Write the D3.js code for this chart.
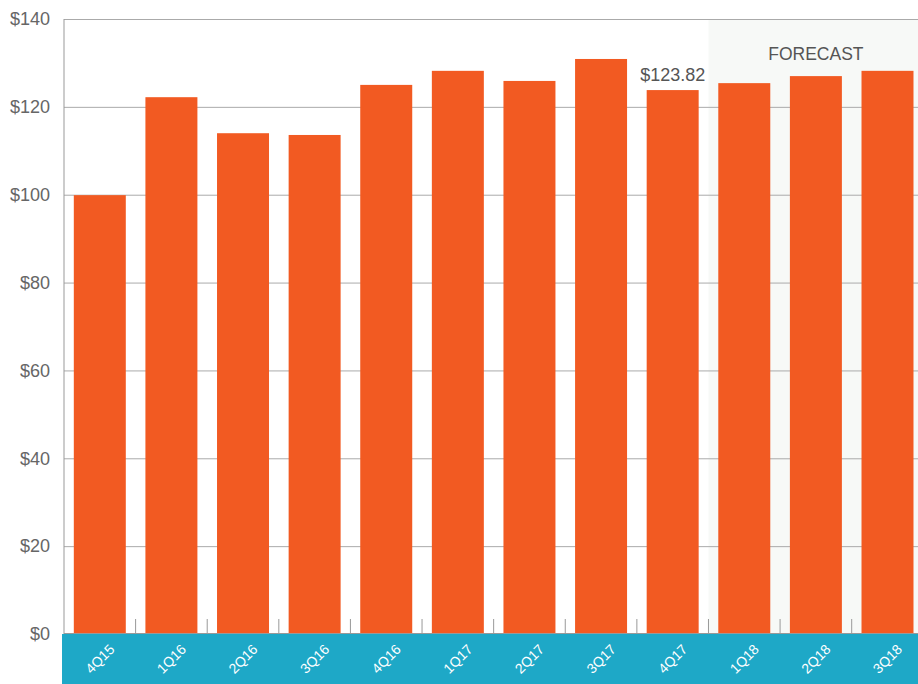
<!DOCTYPE html>
<html>
<head>
<meta charset="utf-8">
<script src="https://cdn.jsdelivr.net/npm/d3@7/dist/d3.min.js"></script>
<style>
  html, body { margin: 0; padding: 0; background: #fff; overflow: hidden; }
  svg { display: block; font-family: "Liberation Sans", Arial, Helvetica, sans-serif; }
</style>
</head>
<body>
<svg id="chart" width="918" height="684"></svg>
<script>
// Quarterly values (USD)
const quarters = ["4Q15", "1Q16", "2Q16", "3Q16", "4Q16", "1Q17", "2Q17", "3Q17", "4Q17", "1Q18", "2Q18", "3Q18"];
const values = [99.9, 122.2, 114.0, 113.6, 125.0, 128.2, 125.9, 130.9, 123.82, 125.4, 127.0, 128.2];
const forecastQuarters = ["1Q18", "2Q18", "3Q18"];
const labelledQuarter = "4Q17";
const yTicks = [0, 20, 40, 60, 80, 100, 120, 140];

const svg = d3.select("#chart");
const plotLeft = 64, plotRight = 923.3, plotTop = 19, plotBottom = 634;

const x = d3.scaleBand()
  .domain(quarters)
  .range([plotLeft, plotRight])
  .paddingInner(0.274)
  .paddingOuter(0.137);

const y = d3.scaleLinear().domain([0, 140]).range([plotBottom, plotTop]);

// Forecast shading
const fStart = x(forecastQuarters[0]) - x.step() * x.paddingInner() / 2;
svg.append("rect")
  .attr("x", fStart).attr("y", plotTop)
  .attr("width", plotRight - fStart).attr("height", plotBottom - plotTop)
  .attr("fill", "#f7f9f7");

svg.append("text")
  .attr("x", (fStart + plotRight) / 2).attr("y", 60)
  .attr("text-anchor", "middle")
  .attr("font-size", 17.5).attr("fill", "#555")
  .text("FORECAST");

// Gridlines and y labels
const yAxis = svg.append("g").attr("transform", `translate(${plotLeft},0)`)
  .call(d3.axisLeft(y).tickValues(yTicks).tickSize(-(918 - plotLeft)).tickFormat(d => "$" + d).tickPadding(14));
yAxis.select(".domain").remove();
yAxis.selectAll(".tick line").attr("stroke", "#aaa").attr("stroke-width", 1);
yAxis.selectAll(".tick text").attr("font-size", 18).attr("fill", "#666")
  .attr("font-family", "'Liberation Sans', Arial, sans-serif");

// Left axis line
svg.append("line")
  .attr("x1", plotLeft).attr("x2", plotLeft).attr("y1", plotTop).attr("y2", plotBottom)
  .attr("stroke", "#999");

// Bars
svg.append("g").selectAll("rect")
  .data(quarters)
  .join("rect")
  .attr("x", d => x(d))
  .attr("y", (d, i) => y(values[i]))
  .attr("width", x.bandwidth())
  .attr("height", (d, i) => y(0) - y(values[i]))
  .attr("fill", "#f25a22");

// Value label
const li = quarters.indexOf(labelledQuarter);
svg.append("text")
  .attr("x", x(labelledQuarter) + x.bandwidth() / 2)
  .attr("y", y(values[li]) - 9)
  .attr("text-anchor", "middle")
  .attr("font-size", 18).attr("fill", "#555")
  .text("$" + values[li].toFixed(2));

// Category ticks at band boundaries
svg.append("g").selectAll("line")
  .data(quarters.slice(1))
  .join("line")
  .attr("x1", d => x(d) - x.step() * x.paddingInner() / 2)
  .attr("x2", d => x(d) - x.step() * x.paddingInner() / 2)
  .attr("y1", plotBottom - 15).attr("y2", plotBottom)
  .attr("stroke", "#999");

// Bottom band with rotated category labels
svg.append("rect")
  .attr("x", 62).attr("y", plotBottom)
  .attr("width", 918 - 62).attr("height", 684 - plotBottom)
  .attr("fill", "#1ea8c7");

svg.append("line")
  .attr("x1", plotLeft).attr("x2", 918).attr("y1", plotBottom - 0.5).attr("y2", plotBottom - 0.5)
  .attr("stroke", "#999");

svg.append("g").selectAll("text")
  .data(quarters)
  .join("text")
  .attr("transform", d => `translate(${x(d) + x.bandwidth() / 2},${659}) rotate(-45)`)
  .attr("text-anchor", "middle")
  .attr("dy", "0.35em")
  .attr("font-size", 14).attr("fill", "#fff")
  .text(d => d);
</script>
</body>
</html>
